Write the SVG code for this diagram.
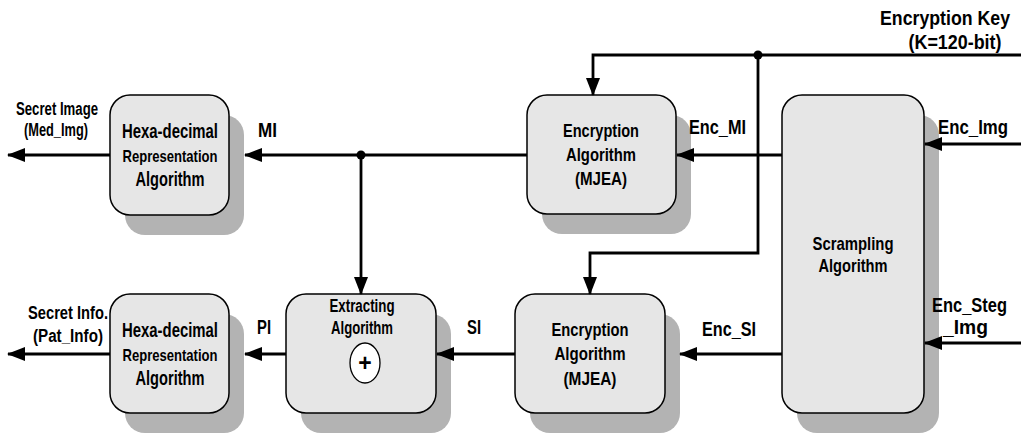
<svg xmlns="http://www.w3.org/2000/svg" width="1021" height="436" viewBox="0 0 1021 436">
<defs>
<marker id="ah" markerUnits="userSpaceOnUse" markerWidth="18" markerHeight="14" refX="17" refY="7" orient="auto">
<path d="M0,0 L18,7 L0,14 Z" fill="#000"/>
</marker>
<style>
.box{fill:#e6e6e6;stroke:#000;stroke-width:1.5}
.sh{fill:#b3b3b3;stroke:none}
.ln{fill:none;stroke:#000;stroke-width:2.8}
.t{font-family:"Liberation Sans",Arial,sans-serif;font-weight:bold;fill:#000}
.m{text-anchor:middle}
</style>
</defs>
<rect width="1021" height="436" fill="#fff"/>

<g id="hexa-top">
<rect class="sh" x="125" y="115" width="119" height="120" rx="20"/>
<rect class="box" x="110" y="95" width="119" height="120" rx="20"/>
<text class="t m" x="170" y="138" font-size="19.5" textLength="96" lengthAdjust="spacingAndGlyphs">Hexa-decimal</text>
<text class="t m" x="170" y="162" font-size="17" textLength="95" lengthAdjust="spacingAndGlyphs">Representation</text>
<text class="t m" x="170" y="186" font-size="19.5" textLength="69" lengthAdjust="spacingAndGlyphs">Algorithm</text>
</g>

<g id="hexa-bottom">
<rect class="sh" x="125" y="314" width="119" height="119" rx="20"/>
<rect class="box" x="110" y="294" width="119" height="119" rx="20"/>
<text class="t m" x="170" y="337" font-size="19.5" textLength="96" lengthAdjust="spacingAndGlyphs">Hexa-decimal</text>
<text class="t m" x="170" y="361" font-size="17" textLength="95" lengthAdjust="spacingAndGlyphs">Representation</text>
<text class="t m" x="170" y="385" font-size="19.5" textLength="69" lengthAdjust="spacingAndGlyphs">Algorithm</text>
</g>

<g id="encrypt-top">
<rect class="sh" x="542" y="115" width="149" height="119" rx="20"/>
<rect class="box" x="527" y="95" width="149" height="119" rx="20"/>
<text class="t m" x="601" y="137" font-size="19" textLength="76" lengthAdjust="spacingAndGlyphs">Encryption</text>
<text class="t m" x="601" y="161" font-size="19" textLength="70" lengthAdjust="spacingAndGlyphs">Algorithm</text>
<text class="t m" x="601" y="185" font-size="19" textLength="52" lengthAdjust="spacingAndGlyphs">(MJEA)</text>
</g>

<g id="extracting">
<rect class="sh" x="301" y="314" width="150" height="119" rx="20"/>
<rect class="box" x="286" y="294" width="150" height="119" rx="20"/>
<text class="t m" x="362" y="312" font-size="17.5" textLength="65" lengthAdjust="spacingAndGlyphs">Extracting</text>
<text class="t m" x="362" y="334" font-size="17.5" textLength="62" lengthAdjust="spacingAndGlyphs">Algorithm</text>
<ellipse cx="365" cy="363" rx="15" ry="20" fill="#fff" stroke="#000" stroke-width="1.3"/>
<text class="t m" x="365" y="371" font-size="23">+</text>
</g>

<g id="encrypt-bottom">
<rect class="sh" x="530" y="314" width="150" height="119" rx="20"/>
<rect class="box" x="515" y="294" width="150" height="119" rx="20"/>
<text class="t m" x="590" y="336" font-size="19" textLength="77" lengthAdjust="spacingAndGlyphs">Encryption</text>
<text class="t m" x="590" y="360" font-size="19" textLength="71" lengthAdjust="spacingAndGlyphs">Algorithm</text>
<text class="t m" x="590" y="385" font-size="19" textLength="53" lengthAdjust="spacingAndGlyphs">(MJEA)</text>
</g>

<g id="scrampling">
<rect class="sh" x="797" y="115" width="142" height="318" rx="20"/>
<rect class="box" x="782" y="95" width="142" height="318" rx="20"/>
<text class="t m" x="853" y="250" font-size="19" textLength="81" lengthAdjust="spacingAndGlyphs">Scrampling</text>
<text class="t m" x="853" y="272" font-size="19" textLength="69" lengthAdjust="spacingAndGlyphs">Algorithm</text>
</g>

<g id="connectors">
<line class="ln" x1="110" y1="155" x2="8" y2="155" marker-end="url(#ah)"/>
<line class="ln" x1="527" y1="155" x2="245" y2="155" marker-end="url(#ah)"/>
<line class="ln" x1="361" y1="155" x2="361" y2="294" marker-end="url(#ah)"/>
<circle cx="361" cy="155" r="4.5" fill="#000"/>
<line class="ln" x1="782" y1="155" x2="677" y2="155" marker-end="url(#ah)"/>
<polyline class="ln" points="1021,55 593,55 593,95" marker-end="url(#ah)"/>
<polyline class="ln" points="758,55 758,253 590,253 590,294" marker-end="url(#ah)"/>
<circle cx="758" cy="55" r="4.5" fill="#000"/>
<line class="ln" x1="1021" y1="144" x2="925" y2="144" marker-end="url(#ah)"/>
<line class="ln" x1="1021" y1="343" x2="925" y2="343" marker-end="url(#ah)"/>
<line class="ln" x1="782" y1="354" x2="680" y2="354" marker-end="url(#ah)"/>
<line class="ln" x1="515" y1="354" x2="437" y2="354" marker-end="url(#ah)"/>
<line class="ln" x1="286" y1="354" x2="245" y2="354" marker-end="url(#ah)"/>
<line class="ln" x1="110" y1="354" x2="8" y2="354" marker-end="url(#ah)"/>
</g>

<g id="labels">
<text class="t m" x="945" y="25" font-size="19.5" textLength="130" lengthAdjust="spacingAndGlyphs">Encryption Key</text>
<text class="t m" x="955" y="49" font-size="19.5" textLength="93" lengthAdjust="spacingAndGlyphs">(K=120-bit)</text>
<text class="t m" x="57" y="115" font-size="17.5" textLength="82" lengthAdjust="spacingAndGlyphs">Secret Image</text>
<text class="t m" x="56" y="136" font-size="17.5" textLength="64" lengthAdjust="spacingAndGlyphs">(Med_Img)</text>
<text class="t" x="258" y="137" font-size="19.5" textLength="19" lengthAdjust="spacingAndGlyphs">MI</text>
<text class="t" x="689" y="134" font-size="19.5" textLength="57" lengthAdjust="spacingAndGlyphs">Enc_MI</text>
<text class="t" x="938" y="134" font-size="19.5" textLength="70" lengthAdjust="spacingAndGlyphs">Enc_Img</text>
<text class="t" x="932" y="312" font-size="19.5" textLength="75" lengthAdjust="spacingAndGlyphs">Enc_Steg</text>
<text class="t" x="943" y="334" font-size="19.5" textLength="45" lengthAdjust="spacingAndGlyphs">_Img</text>
<text class="t" x="702" y="336" font-size="19.5" textLength="54" lengthAdjust="spacingAndGlyphs">Enc_SI</text>
<text class="t" x="467" y="334" font-size="19.5" textLength="14" lengthAdjust="spacingAndGlyphs">SI</text>
<text class="t" x="257" y="334" font-size="19.5" textLength="14" lengthAdjust="spacingAndGlyphs">PI</text>
<text class="t m" x="68" y="319" font-size="17.5" textLength="80" lengthAdjust="spacingAndGlyphs">Secret Info.</text>
<text class="t m" x="68" y="342" font-size="17.5" textLength="70" lengthAdjust="spacingAndGlyphs">(Pat_Info)</text>
</g>
</svg>
